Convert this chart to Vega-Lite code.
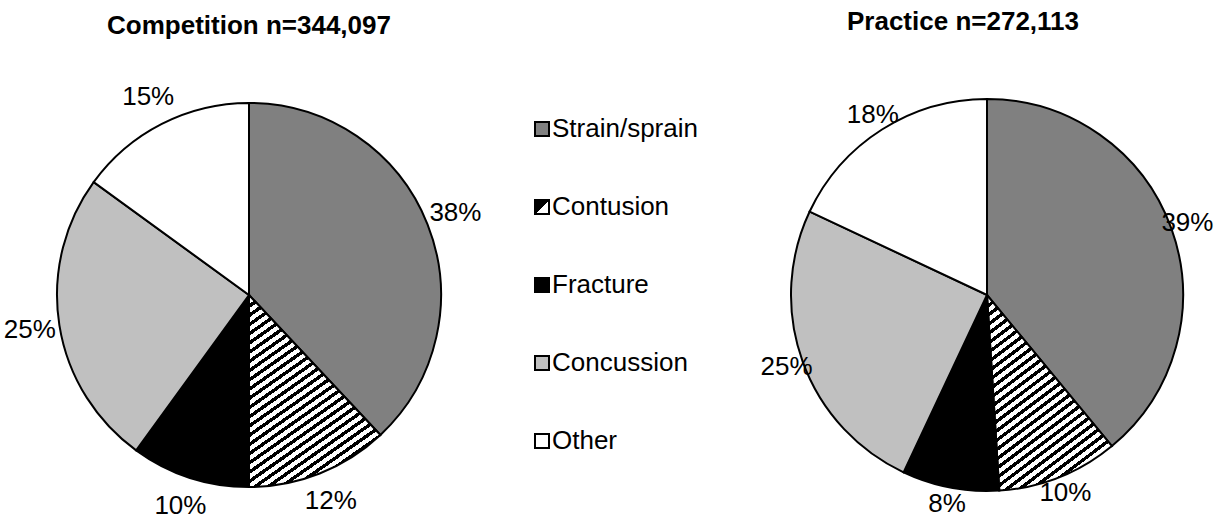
{
  "$schema": "https://vega.github.io/schema/vega-lite/v6.json",
  "autosize": {"type": "pad"},
  "padding": {"left": 0, "top": 9, "right": 0, "bottom": 0},
  "bounds": "flush",
  "spacing": 251,
  "background": "white",
  "datasets": {
    "pies": [
      {"chart": "Competition", "cat": "Strain/sprain", "pct": 0.38, "k": 1},
      {"chart": "Competition", "cat": "Contusion", "pct": 0.12, "k": 2},
      {"chart": "Competition", "cat": "Fracture", "pct": 0.10, "k": 3},
      {"chart": "Competition", "cat": "Concussion", "pct": 0.25, "k": 4},
      {"chart": "Competition", "cat": "Other", "pct": 0.15, "k": 5},
      {"chart": "Practice", "cat": "Strain/sprain", "pct": 0.39, "k": 1},
      {"chart": "Practice", "cat": "Contusion", "pct": 0.10, "k": 2},
      {"chart": "Practice", "cat": "Fracture", "pct": 0.08, "k": 3},
      {"chart": "Practice", "cat": "Concussion", "pct": 0.25, "k": 4},
      {"chart": "Practice", "cat": "Other", "pct": 0.18, "k": 5}
    ]
  },
  "hconcat": [
    {
      "title": {"text": "Competition n=344,097", "fontSize": 26, "font": "Liberation Sans", "fontWeight": "bold", "color": "black", "offset": 30},
      "width": 498,
      "height": 452,
      "data": {"name": "pies"},
      "transform": [{"filter": "datum.chart === 'Competition'"}],
      "encoding": {
        "theta": {"field": "pct", "type": "quantitative", "stack": true},
        "order": {"field": "k", "type": "quantitative"}
      },
      "layer": [
        {
          "mark": {"type": "arc", "outerRadius": 192, "strokeWidth": 2},
          "encoding": {
            "color": {
              "condition": {"test": "datum.cat === 'Contusion'", "value": {"expr": "datum.cat ? {gradient: 'linear', x1: 0, y1: 0, x2: 0.6, y2: 1.25, stops: [{offset: 0, color: '#000'}, {offset: 0.014, color: '#000'}, {offset: 0.014, color: '#fff'}, {offset: 0.03125, color: '#fff'}, {offset: 0.03125, color: '#000'}, {offset: 0.04525, color: '#000'}, {offset: 0.04525, color: '#fff'}, {offset: 0.0625, color: '#fff'}, {offset: 0.0625, color: '#000'}, {offset: 0.0765, color: '#000'}, {offset: 0.0765, color: '#fff'}, {offset: 0.09375, color: '#fff'}, {offset: 0.09375, color: '#000'}, {offset: 0.10775, color: '#000'}, {offset: 0.10775, color: '#fff'}, {offset: 0.125, color: '#fff'}, {offset: 0.125, color: '#000'}, {offset: 0.139, color: '#000'}, {offset: 0.139, color: '#fff'}, {offset: 0.15625, color: '#fff'}, {offset: 0.15625, color: '#000'}, {offset: 0.17025, color: '#000'}, {offset: 0.17025, color: '#fff'}, {offset: 0.1875, color: '#fff'}, {offset: 0.1875, color: '#000'}, {offset: 0.2015, color: '#000'}, {offset: 0.2015, color: '#fff'}, {offset: 0.21875, color: '#fff'}, {offset: 0.21875, color: '#000'}, {offset: 0.23275, color: '#000'}, {offset: 0.23275, color: '#fff'}, {offset: 0.25, color: '#fff'}, {offset: 0.25, color: '#000'}, {offset: 0.264, color: '#000'}, {offset: 0.264, color: '#fff'}, {offset: 0.28125, color: '#fff'}, {offset: 0.28125, color: '#000'}, {offset: 0.29525, color: '#000'}, {offset: 0.29525, color: '#fff'}, {offset: 0.3125, color: '#fff'}, {offset: 0.3125, color: '#000'}, {offset: 0.3265, color: '#000'}, {offset: 0.3265, color: '#fff'}, {offset: 0.34375, color: '#fff'}, {offset: 0.34375, color: '#000'}, {offset: 0.35775, color: '#000'}, {offset: 0.35775, color: '#fff'}, {offset: 0.375, color: '#fff'}, {offset: 0.375, color: '#000'}, {offset: 0.389, color: '#000'}, {offset: 0.389, color: '#fff'}, {offset: 0.40625, color: '#fff'}, {offset: 0.40625, color: '#000'}, {offset: 0.42025, color: '#000'}, {offset: 0.42025, color: '#fff'}, {offset: 0.4375, color: '#fff'}, {offset: 0.4375, color: '#000'}, {offset: 0.4515, color: '#000'}, {offset: 0.4515, color: '#fff'}, {offset: 0.46875, color: '#fff'}, {offset: 0.46875, color: '#000'}, {offset: 0.48275, color: '#000'}, {offset: 0.48275, color: '#fff'}, {offset: 0.5, color: '#fff'}, {offset: 0.5, color: '#000'}, {offset: 0.514, color: '#000'}, {offset: 0.514, color: '#fff'}, {offset: 0.53125, color: '#fff'}, {offset: 0.53125, color: '#000'}, {offset: 0.54525, color: '#000'}, {offset: 0.54525, color: '#fff'}, {offset: 0.5625, color: '#fff'}, {offset: 0.5625, color: '#000'}, {offset: 0.5765, color: '#000'}, {offset: 0.5765, color: '#fff'}, {offset: 0.59375, color: '#fff'}, {offset: 0.59375, color: '#000'}, {offset: 0.60775, color: '#000'}, {offset: 0.60775, color: '#fff'}, {offset: 0.625, color: '#fff'}, {offset: 0.625, color: '#000'}, {offset: 0.639, color: '#000'}, {offset: 0.639, color: '#fff'}, {offset: 0.65625, color: '#fff'}, {offset: 0.65625, color: '#000'}, {offset: 0.67025, color: '#000'}, {offset: 0.67025, color: '#fff'}, {offset: 0.6875, color: '#fff'}, {offset: 0.6875, color: '#000'}, {offset: 0.7015, color: '#000'}, {offset: 0.7015, color: '#fff'}, {offset: 0.71875, color: '#fff'}, {offset: 0.71875, color: '#000'}, {offset: 0.73275, color: '#000'}, {offset: 0.73275, color: '#fff'}, {offset: 0.75, color: '#fff'}, {offset: 0.75, color: '#000'}, {offset: 0.764, color: '#000'}, {offset: 0.764, color: '#fff'}, {offset: 0.78125, color: '#fff'}, {offset: 0.78125, color: '#000'}, {offset: 0.79525, color: '#000'}, {offset: 0.79525, color: '#fff'}, {offset: 0.8125, color: '#fff'}, {offset: 0.8125, color: '#000'}, {offset: 0.8265, color: '#000'}, {offset: 0.8265, color: '#fff'}, {offset: 0.84375, color: '#fff'}, {offset: 0.84375, color: '#000'}, {offset: 0.85775, color: '#000'}, {offset: 0.85775, color: '#fff'}, {offset: 0.875, color: '#fff'}, {offset: 0.875, color: '#000'}, {offset: 0.889, color: '#000'}, {offset: 0.889, color: '#fff'}, {offset: 0.90625, color: '#fff'}, {offset: 0.90625, color: '#000'}, {offset: 0.92025, color: '#000'}, {offset: 0.92025, color: '#fff'}, {offset: 0.9375, color: '#fff'}, {offset: 0.9375, color: '#000'}, {offset: 0.9515, color: '#000'}, {offset: 0.9515, color: '#fff'}, {offset: 0.96875, color: '#fff'}, {offset: 0.96875, color: '#000'}, {offset: 0.98275, color: '#000'}, {offset: 0.98275, color: '#fff'}, {offset: 1, color: '#fff'}]} : (datum.value === 2 ? {gradient: 'linear', x1: 0, y1: 0, x2: 1, y2: 1, stops: [{offset: 0, color: '#000'}, {offset: 0.5, color: '#000'}, {offset: 0.5, color: '#fff'}, {offset: 1, color: '#fff'}]} : ['#808080', '#ffffff', '#000000', '#c0c0c0', '#ffffff'][datum.value - 1])"}},
              "field": "cat", "type": "nominal",
              "scale": {
                "domain": ["Strain/sprain", "Contusion", "Fracture", "Concussion", "Other"],
                "range": ["#808080", "#ffffff", "#000000", "#c0c0c0", "#ffffff"]
              },
              "legend": null
            },
            "stroke": {
              "field": "k", "type": "ordinal",
              "scale": {
                "domain": [1, 2, 3, 4, 5],
                "range": ["#000000", "#000000", "#000000", "#000000", "#000000"]
              },
              "legend": {
                "orient": "none", "legendX": 529, "legendY": 47, "title": null,
                "symbolType": "square", "symbolSize": 196, "symbolStrokeWidth": 2,
                "labelFontSize": 26, "labelFont": "Liberation Sans", "labelColor": "black", "labelOffset": -3,
                "rowPadding": 52, "padding": 0, "labelLimit": 400,
                "labelExpr": "['Strain/sprain', 'Contusion', 'Fracture', 'Concussion', 'Other'][datum.value - 1]"
              }
            }
          }
        },
        {
          "mark": {"type": "text", "radius": 222, "fontSize": 26, "font": "Liberation Sans", "color": "black"},
          "encoding": {
            "text": {"field": "pct", "type": "quantitative", "format": ".0%"}
          }
        }
      ]
    },
    {
      "title": {"text": "Practice n=272,113", "fontSize": 26, "font": "Liberation Sans", "fontWeight": "bold", "color": "black", "offset": 34, "dx": -24},
      "width": 476,
      "height": 452,
      "data": {"name": "pies"},
      "transform": [{"filter": "datum.chart === 'Practice'"}],
      "encoding": {
        "theta": {"field": "pct", "type": "quantitative", "stack": true},
        "order": {"field": "k", "type": "quantitative"}
      },
      "layer": [
        {
          "mark": {"type": "arc", "outerRadius": 196, "stroke": "black", "strokeWidth": 2},
          "encoding": {
            "color": {
              "condition": {"test": "datum.cat === 'Contusion'", "value": {"gradient": "linear", "x1": 0, "y1": 0, "x2": 0.6, "y2": 1.25, "stops": [
                  {"offset": 0, "color": "#000"}, {"offset": 0.014, "color": "#000"}, {"offset": 0.014, "color": "#fff"}, {"offset": 0.03125, "color": "#fff"},
                  {"offset": 0.03125, "color": "#000"}, {"offset": 0.04525, "color": "#000"}, {"offset": 0.04525, "color": "#fff"}, {"offset": 0.0625, "color": "#fff"},
                  {"offset": 0.0625, "color": "#000"}, {"offset": 0.0765, "color": "#000"}, {"offset": 0.0765, "color": "#fff"}, {"offset": 0.09375, "color": "#fff"},
                  {"offset": 0.09375, "color": "#000"}, {"offset": 0.10775, "color": "#000"}, {"offset": 0.10775, "color": "#fff"}, {"offset": 0.125, "color": "#fff"},
                  {"offset": 0.125, "color": "#000"}, {"offset": 0.139, "color": "#000"}, {"offset": 0.139, "color": "#fff"}, {"offset": 0.15625, "color": "#fff"},
                  {"offset": 0.15625, "color": "#000"}, {"offset": 0.17025, "color": "#000"}, {"offset": 0.17025, "color": "#fff"}, {"offset": 0.1875, "color": "#fff"},
                  {"offset": 0.1875, "color": "#000"}, {"offset": 0.2015, "color": "#000"}, {"offset": 0.2015, "color": "#fff"}, {"offset": 0.21875, "color": "#fff"},
                  {"offset": 0.21875, "color": "#000"}, {"offset": 0.23275, "color": "#000"}, {"offset": 0.23275, "color": "#fff"}, {"offset": 0.25, "color": "#fff"},
                  {"offset": 0.25, "color": "#000"}, {"offset": 0.264, "color": "#000"}, {"offset": 0.264, "color": "#fff"}, {"offset": 0.28125, "color": "#fff"},
                  {"offset": 0.28125, "color": "#000"}, {"offset": 0.29525, "color": "#000"}, {"offset": 0.29525, "color": "#fff"}, {"offset": 0.3125, "color": "#fff"},
                  {"offset": 0.3125, "color": "#000"}, {"offset": 0.3265, "color": "#000"}, {"offset": 0.3265, "color": "#fff"}, {"offset": 0.34375, "color": "#fff"},
                  {"offset": 0.34375, "color": "#000"}, {"offset": 0.35775, "color": "#000"}, {"offset": 0.35775, "color": "#fff"}, {"offset": 0.375, "color": "#fff"},
                  {"offset": 0.375, "color": "#000"}, {"offset": 0.389, "color": "#000"}, {"offset": 0.389, "color": "#fff"}, {"offset": 0.40625, "color": "#fff"},
                  {"offset": 0.40625, "color": "#000"}, {"offset": 0.42025, "color": "#000"}, {"offset": 0.42025, "color": "#fff"}, {"offset": 0.4375, "color": "#fff"},
                  {"offset": 0.4375, "color": "#000"}, {"offset": 0.4515, "color": "#000"}, {"offset": 0.4515, "color": "#fff"}, {"offset": 0.46875, "color": "#fff"},
                  {"offset": 0.46875, "color": "#000"}, {"offset": 0.48275, "color": "#000"}, {"offset": 0.48275, "color": "#fff"}, {"offset": 0.5, "color": "#fff"},
                  {"offset": 0.5, "color": "#000"}, {"offset": 0.514, "color": "#000"}, {"offset": 0.514, "color": "#fff"}, {"offset": 0.53125, "color": "#fff"},
                  {"offset": 0.53125, "color": "#000"}, {"offset": 0.54525, "color": "#000"}, {"offset": 0.54525, "color": "#fff"}, {"offset": 0.5625, "color": "#fff"},
                  {"offset": 0.5625, "color": "#000"}, {"offset": 0.5765, "color": "#000"}, {"offset": 0.5765, "color": "#fff"}, {"offset": 0.59375, "color": "#fff"},
                  {"offset": 0.59375, "color": "#000"}, {"offset": 0.60775, "color": "#000"}, {"offset": 0.60775, "color": "#fff"}, {"offset": 0.625, "color": "#fff"},
                  {"offset": 0.625, "color": "#000"}, {"offset": 0.639, "color": "#000"}, {"offset": 0.639, "color": "#fff"}, {"offset": 0.65625, "color": "#fff"},
                  {"offset": 0.65625, "color": "#000"}, {"offset": 0.67025, "color": "#000"}, {"offset": 0.67025, "color": "#fff"}, {"offset": 0.6875, "color": "#fff"},
                  {"offset": 0.6875, "color": "#000"}, {"offset": 0.7015, "color": "#000"}, {"offset": 0.7015, "color": "#fff"}, {"offset": 0.71875, "color": "#fff"},
                  {"offset": 0.71875, "color": "#000"}, {"offset": 0.73275, "color": "#000"}, {"offset": 0.73275, "color": "#fff"}, {"offset": 0.75, "color": "#fff"},
                  {"offset": 0.75, "color": "#000"}, {"offset": 0.764, "color": "#000"}, {"offset": 0.764, "color": "#fff"}, {"offset": 0.78125, "color": "#fff"},
                  {"offset": 0.78125, "color": "#000"}, {"offset": 0.79525, "color": "#000"}, {"offset": 0.79525, "color": "#fff"}, {"offset": 0.8125, "color": "#fff"},
                  {"offset": 0.8125, "color": "#000"}, {"offset": 0.8265, "color": "#000"}, {"offset": 0.8265, "color": "#fff"}, {"offset": 0.84375, "color": "#fff"},
                  {"offset": 0.84375, "color": "#000"}, {"offset": 0.85775, "color": "#000"}, {"offset": 0.85775, "color": "#fff"}, {"offset": 0.875, "color": "#fff"},
                  {"offset": 0.875, "color": "#000"}, {"offset": 0.889, "color": "#000"}, {"offset": 0.889, "color": "#fff"}, {"offset": 0.90625, "color": "#fff"},
                  {"offset": 0.90625, "color": "#000"}, {"offset": 0.92025, "color": "#000"}, {"offset": 0.92025, "color": "#fff"}, {"offset": 0.9375, "color": "#fff"},
                  {"offset": 0.9375, "color": "#000"}, {"offset": 0.9515, "color": "#000"}, {"offset": 0.9515, "color": "#fff"}, {"offset": 0.96875, "color": "#fff"},
                  {"offset": 0.96875, "color": "#000"}, {"offset": 0.98275, "color": "#000"}, {"offset": 0.98275, "color": "#fff"}, {"offset": 1, "color": "#fff"}
                ]}},
              "field": "cat", "type": "nominal", "legend": null
            }
          }
        },
        {
          "mark": {"type": "text", "radius": 213, "fontSize": 26, "font": "Liberation Sans", "color": "black"},
          "encoding": {
            "text": {"field": "pct", "type": "quantitative", "format": ".0%"}
          }
        }
      ]
    }
  ],
  "resolve": {"scale": {"color": "shared"}},
  "config": {
    "view": {"stroke": null},
    "font": "Liberation Sans"
  }
}
